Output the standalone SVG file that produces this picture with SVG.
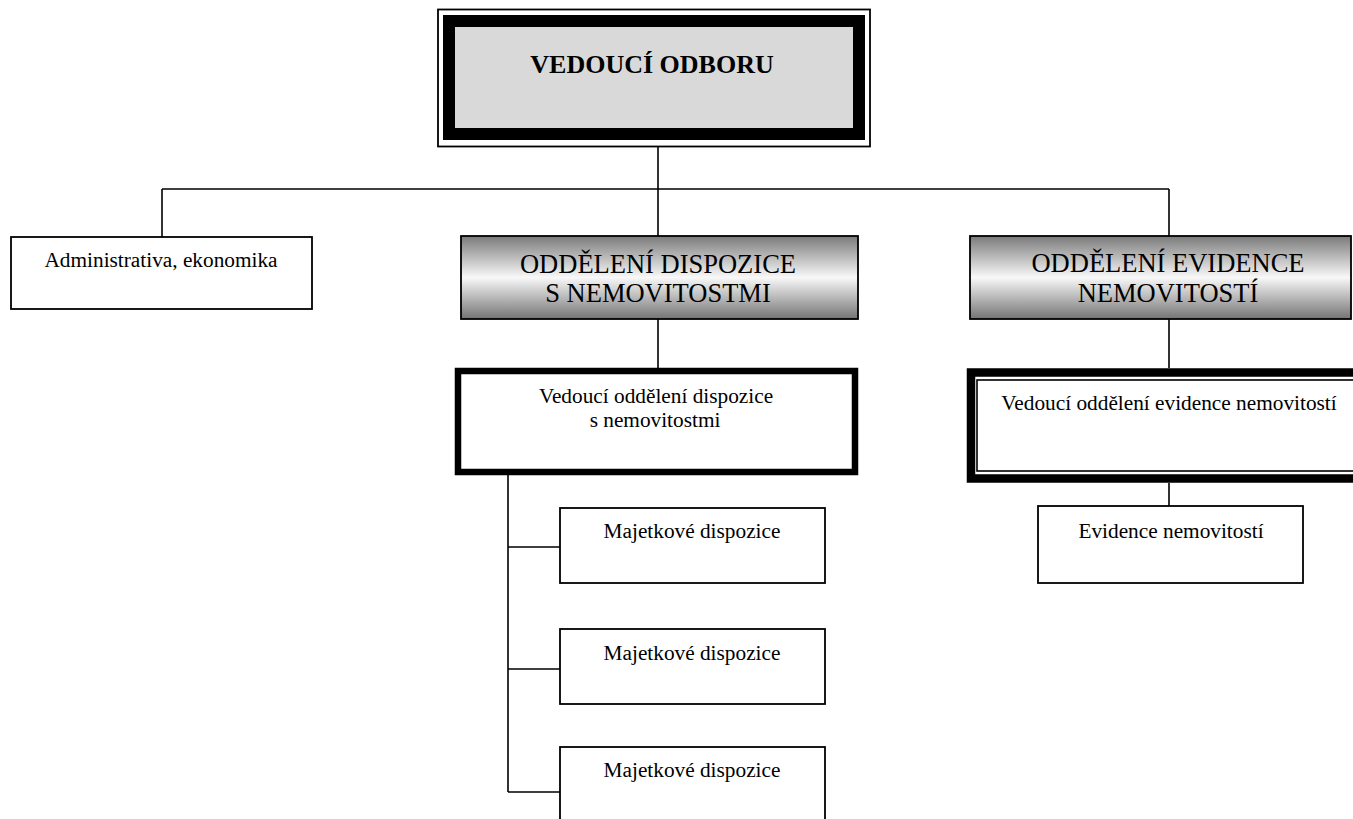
<svg xmlns="http://www.w3.org/2000/svg" width="1353" height="819" viewBox="0 0 1353 819">
<style>
text{font-family:"Liberation Serif","Times New Roman",serif;fill:#000;text-anchor:middle}
.b{font-size:21.3px}
.h{font-size:26.5px}
.t{font-size:26px;font-weight:bold}
.box{fill:#fff;stroke:#000;stroke-width:1.8}
.conn{stroke:#000;stroke-width:1.6;fill:none}
</style>
<defs>
<linearGradient id="g" x1="0" y1="0" x2="0" y2="1">
<stop offset="0" stop-color="#7a7a7a"/>
<stop offset="0.5" stop-color="#f8f8f8"/>
<stop offset="1" stop-color="#747474"/>
</linearGradient>
</defs>
<rect width="1353" height="819" fill="#fff"/>
<g id="connectors">
<path class="conn" d="M658 147V189M162 189H1169M162 189V237M658 189V236M1169 189V236"/>
<path class="conn" d="M658 319V368M1169 319V368M1169 483V506"/>
<path class="conn" d="M508 475V792M508 547H560M508 669H560M508 792H560"/>
</g>
<g id="vedouci-odboru">
<rect x="438" y="9.5" width="432" height="137" fill="#fff" stroke="#000" stroke-width="1.8"/>
<rect x="449" y="21" width="410" height="113" fill="#d9d9d9" stroke="#000" stroke-width="12"/>
<text class="t" x="652" y="73">VEDOUCÍ ODBORU</text>
</g>
<g id="administrativa">
<rect class="box" x="11" y="237" width="301" height="72"/>
<text class="b" x="161" y="267">Administrativa, ekonomika</text>
</g>
<g id="oddeleni-dispozice">
<rect x="461" y="236" width="397" height="83" fill="url(#g)" stroke="#000" stroke-width="1.8"/>
<text class="h" x="658" y="273">ODDĚLENÍ DISPOZICE</text>
<text class="h" x="658" y="302">S NEMOVITOSTMI</text>
</g>
<g id="oddeleni-evidence">
<rect x="970" y="236" width="381" height="83" fill="url(#g)" stroke="#000" stroke-width="1.8"/>
<text class="h" x="1168" y="272">ODDĚLENÍ EVIDENCE</text>
<text class="h" x="1168" y="302">NEMOVITOSTÍ</text>
</g>
<g id="vedouci-dispozice">
<rect x="458" y="371" width="397" height="101" fill="#fff" stroke="#000" stroke-width="6.5"/>
<text class="b" x="656" y="403">Vedoucí oddělení dispozice</text>
<text class="b" x="655" y="427">s nemovitostmi</text>
</g>
<g id="vedouci-evidence">
<rect x="971" y="372.5" width="400" height="106" fill="#fff" stroke="#000" stroke-width="8.5"/>
<rect x="977" y="380" width="400" height="91" fill="none" stroke="#000" stroke-width="1.6"/>
<text class="b" x="1169" y="410">Vedoucí oddělení evidence nemovitostí</text>
</g>
<g id="evidence-nemovitosti">
<rect class="box" x="1038" y="506" width="265" height="77"/>
<text class="b" x="1171" y="538">Evidence nemovitostí</text>
</g>
<g id="majetkove-1">
<rect class="box" x="560" y="508" width="265" height="75"/>
<text class="b" x="692" y="538">Majetkové dispozice</text>
</g>
<g id="majetkove-2">
<rect class="box" x="560" y="629" width="265" height="75"/>
<text class="b" x="692" y="660">Majetkové dispozice</text>
</g>
<g id="majetkove-3">
<rect class="box" x="560" y="747" width="265" height="80"/>
<text class="b" x="692" y="777">Majetkové dispozice</text>
</g>
</svg>
